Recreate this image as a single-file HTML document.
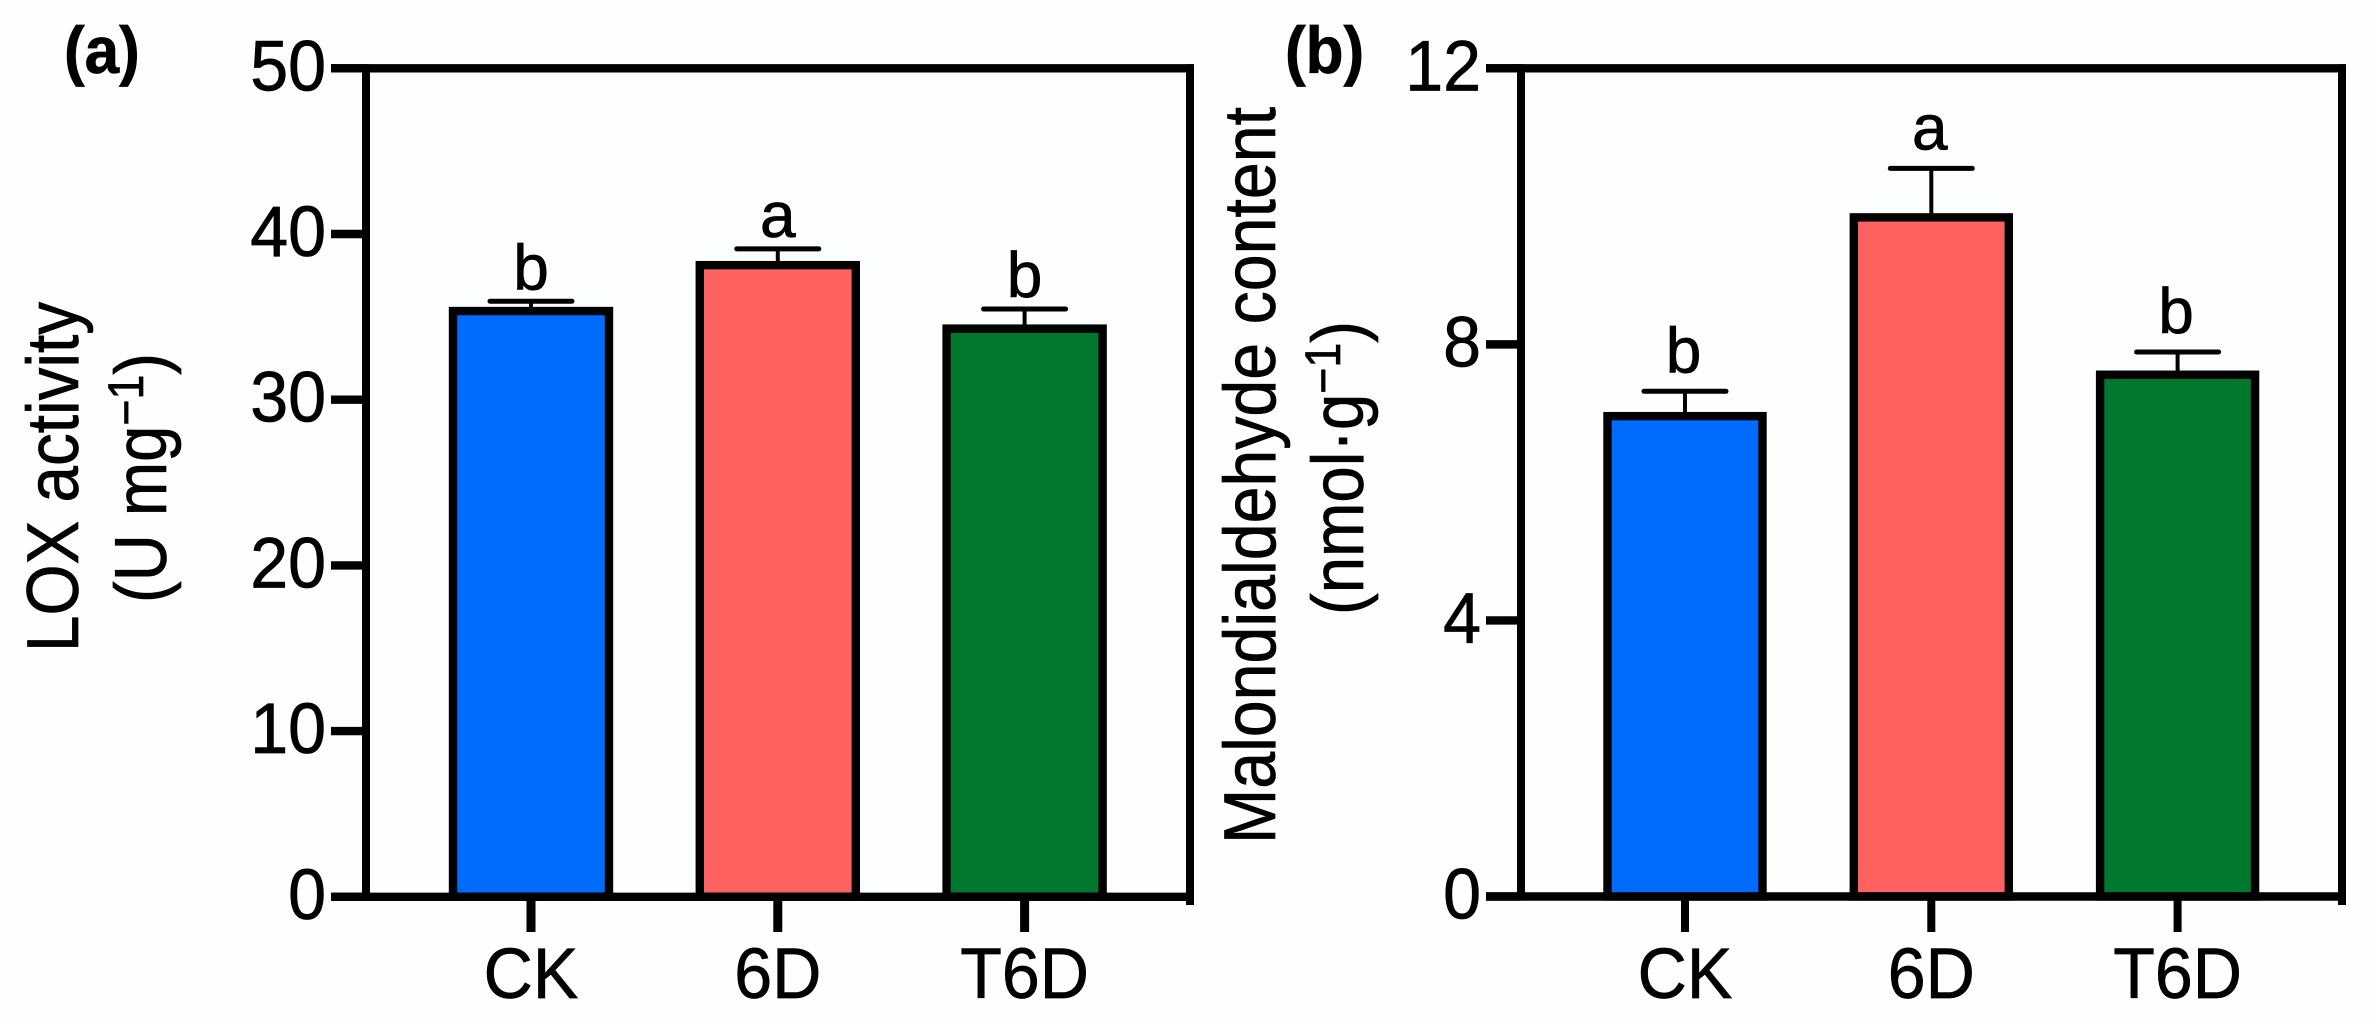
<!DOCTYPE html>
<html lang="en">
<head>
<meta charset="utf-8">
<title>LOX activity and malondialdehyde content</title>
<style>
html,body{margin:0;padding:0;background:#fdfefe;}
body{width:2370px;height:1022px;overflow:hidden;}
svg{display:block;font-family:"Liberation Sans",Arial,sans-serif;fill:#000;}
text{stroke:#000;stroke-width:0.7px;}
</style>
</head>
<body>
<svg id="figure" width="2370" height="1022" viewBox="0 0 2370 1022" xmlns="http://www.w3.org/2000/svg">
  <rect x="0" y="0" width="2370" height="1022" fill="#fdfefe"/>

  <text transform="translate(64,73) scale(0.94,1)" font-size="66" font-weight="bold">(a)</text>
  <text transform="translate(1285,73) scale(0.94,1)" font-size="66" font-weight="bold">(b)</text>

  <text transform="translate(78,652) rotate(-90)" font-size="73" textLength="350" lengthAdjust="spacingAndGlyphs">LOX activity</text>
  <text transform="translate(166,603) rotate(-90)" font-size="73" textLength="250" lengthAdjust="spacingAndGlyphs">(U mg<tspan font-size="50" dy="-23">−1</tspan><tspan dy="23">)</tspan></text>

  <text transform="translate(1275,844) rotate(-90)" font-size="73" textLength="737" lengthAdjust="spacingAndGlyphs">Malondialdehyde content</text>
  <text transform="translate(1363,615) rotate(-90)" font-size="73" textLength="294" lengthAdjust="spacingAndGlyphs">(nmol·g<tspan font-size="50" dy="-23">−1</tspan><tspan dy="23">)</tspan></text>

  <g id="panel-a"></g>
  <g id="panel-b"></g>
</svg>

<script>
const categories = ["CK", "6D", "T6D"];
const barColors = ["#006cff", "#ff6161", "#00782e"];

const loxValues = [35.35, 38.12, 34.29];
const loxErrorTops = [35.94, 39.1, 35.47];
const loxLetters = ["b", "a", "b"];
const loxTicks = [0, 10, 20, 30, 40, 50];

const mdaValues = [6.96, 9.84, 7.56];
const mdaErrorTops = [7.32, 10.55, 7.89];
const mdaLetters = ["b", "a", "b"];
const mdaTicks = [0, 4, 8, 12];

const SVG_NS = "http://www.w3.org/2000/svg";

function makeNode(tag, attrs, parent) {
  const el = document.createElementNS(SVG_NS, tag);
  for (const key in attrs) el.setAttribute(key, attrs[key]);
  parent.appendChild(el);
  return el;
}

function drawPanel(groupId, values, errorTops, letters, ticks, yMax, layout) {
  const group = document.getElementById(groupId);
  const yScale = v => layout.y0 + (layout.yTop - layout.y0) * (v / yMax);
  const xScale = i => layout.x0 + i * layout.step;

  categories.forEach((category, i) => {
    const cx = xScale(i);
    const top = yScale(values[i]);
    const errTop = yScale(errorTops[i]);

    const stem = makeNode("line", {x1: cx, x2: cx, y1: errTop, y2: top, stroke: "#000", "stroke-width": 4}, group);
    
    

    const cap = makeNode("line", {x1: cx - 41, x2: cx + 41, y1: errTop, y2: errTop, stroke: "#000", "stroke-width": 5, "stroke-linecap": "round"}, group);
    
    

    const bar = makeNode("rect", {x: cx - layout.barW / 2, y: top, width: layout.barW, height: layout.y0 - top, fill: barColors[i], stroke: "#000", "stroke-width": layout.barStroke}, group);
    
    

    const letter = makeNode("text", {x: cx + layout.letterShift, y: errTop - layout.letterGap, "font-size": 64, "text-anchor": "middle"}, group);
    letter.textContent = letters[i];
    
    

    const tick = makeNode("line", {x1: cx, x2: cx, y1: layout.y0, y2: 932, stroke: "#000", "stroke-width": layout.xTickW}, group);
    
    

    const label = makeNode("text", {transform: "translate(" + cx + ",998) scale(0.96,1)", "font-size": 71, "text-anchor": "middle"}, group);
    label.textContent = category;
    
    
  });

  ticks.forEach(t => {
    const y = yScale(t);
    const tick = makeNode("line", {x1: layout.tickStart, x2: layout.axisX, y1: y, y2: y, stroke: "#000", "stroke-width": 8.4}, group);
    
    

    const label = makeNode("text", {transform: "translate(" + layout.tickLabelX + "," + (y + 22) + ") scale(0.96,1)", "font-size": 71, "text-anchor": "end"}, group);
    label.textContent = String(t);
    
    
  });

  const leftAxis = makeNode("line", {x1: layout.axisX, x2: layout.axisX, y1: layout.yTop - 4, y2: layout.y0 + 4, stroke: "#000", "stroke-width": 8}, group);
  
  

  const rightAxis = makeNode("line", {x1: layout.rightX, x2: layout.rightX, y1: layout.yTop - 4, y2: 905, stroke: "#000", "stroke-width": 8}, group);
  
  

  const topAxis = makeNode("line", {x1: layout.tickStart, x2: layout.rightX + 4, y1: layout.yTop, y2: layout.yTop, stroke: "#000", "stroke-width": 8.4}, group);
  
  

  const baseAxis = makeNode("line", {x1: layout.tickStart, x2: layout.rightX + 4, y1: layout.y0, y2: layout.y0, stroke: "#000", "stroke-width": 8.4}, group);
  
  
}

drawPanel("panel-a", loxValues, loxErrorTops, loxLetters, loxTicks, 50, {
  y0: 896.8, yTop: 68.3, x0: 531, step: 246.8, barW: 156, barStroke: 8.4,
  axisX: 366, rightX: 1190, tickStart: 331, tickLabelX: 326, letterGap: 12, letterShift: 0, xTickW: 9
});

drawPanel("panel-b", mdaValues, mdaErrorTops, mdaLetters, mdaTicks, 12, {
  y0: 896.5, yTop: 68.3, x0: 1685, step: 246.3, barW: 155, barStroke: 8.4,
  axisX: 1521, rightX: 2342, tickStart: 1486, tickLabelX: 1481, letterGap: 19, letterShift: -1.5, xTickW: 8
});
</script>
</body>
</html>
